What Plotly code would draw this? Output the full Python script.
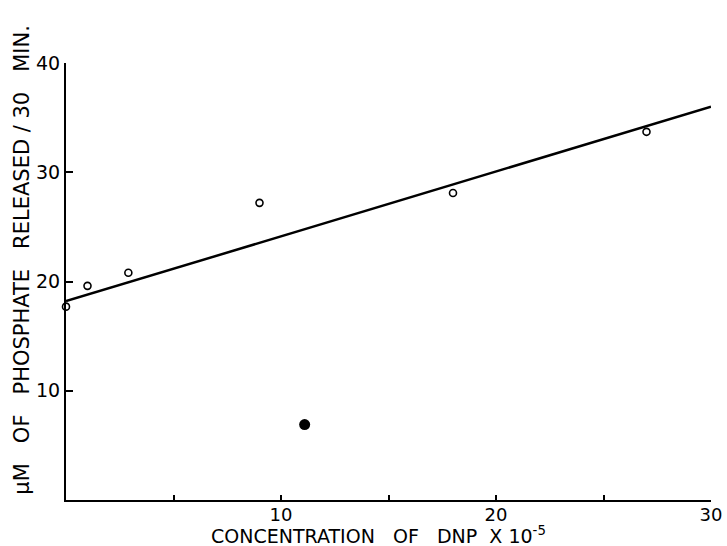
import plotly.graph_objects as go

# Data
open_x = [0, 1, 2.9, 9, 18, 27]
open_y = [17.7, 19.6, 20.8, 27.2, 28.1, 33.7]
filled_x = [11.1]
filled_y = [6.9]
fit_x = [0, 30]
fit_y = [18.2, 36.0]

x_tickvals = [10, 20, 30]
x_ticktext = ["10", "20", "30"]
x_minor_tickvals = [5, 15, 25]
y_tickvals = [10, 20, 30, 40]
y_ticktext = ["10", "20", "30", "40"]

FONT = "DejaVu Sans"

fig = go.Figure()
fig.add_trace(go.Scatter(x=fit_x, y=fit_y, mode="lines",
                         line=dict(color="black", width=2.5), showlegend=False))
fig.add_trace(go.Scatter(x=open_x, y=open_y, mode="markers",
                         marker=dict(symbol="circle-open", size=7, color="black",
                                     line=dict(width=1.6, color="black")),
                         cliponaxis=False, showlegend=False))
fig.add_trace(go.Scatter(x=filled_x, y=filled_y, mode="markers",
                         marker=dict(symbol="circle", size=11, color="black"),
                         showlegend=False))

fig.update_layout(
    width=727, height=546,
    margin=dict(l=66, r=16, t=63, b=46, autoexpand=False),
    paper_bgcolor="white", plot_bgcolor="white",
    font=dict(family=FONT, color="black"),
    xaxis=dict(range=[0, 30], tickvals=x_tickvals, ticktext=x_ticktext,
               ticks="inside", ticklen=5, tickwidth=1.5, tickcolor="black",
               ticklabelstandoff=-3,
               minor=dict(tickvals=x_minor_tickvals, ticks="inside", ticklen=5,
                          tickwidth=1.5, tickcolor="black", showgrid=False),
               showline=True, linecolor="black", linewidth=2,
               showgrid=False, zeroline=False,
               tickfont=dict(size=18, family=FONT)),
    yaxis=dict(range=[0, 40], tickvals=y_tickvals, ticktext=y_ticktext,
               ticks="inside", ticklen=7, tickwidth=1.5, tickcolor="black",
               showline=True, linecolor="black", linewidth=2,
               showgrid=False, zeroline=False,
               tickfont=dict(size=19, family=FONT)),
    annotations=[
        dict(text="CONCENTRATION   OF   DNP  X 10<sup>-5</sup>", xref="paper", yref="paper",
             x=0.484, y=0, yshift=-35, xanchor="center", yanchor="middle",
             showarrow=False, font=dict(size=19, family=FONT)),
        dict(text="µM   OF   PHOSPHATE   RELEASED / 30   MIN.", xref="paper", yref="paper",
             x=0, xshift=-44, y=0.55, xanchor="center", yanchor="middle",
             textangle=-90, showarrow=False, font=dict(size=21, family=FONT)),
    ],
)

fig.write_html("out.html", config={"displayModeBar": False},
               post_script="document.body.style.margin='0';document.body.style.overflow='hidden';")
